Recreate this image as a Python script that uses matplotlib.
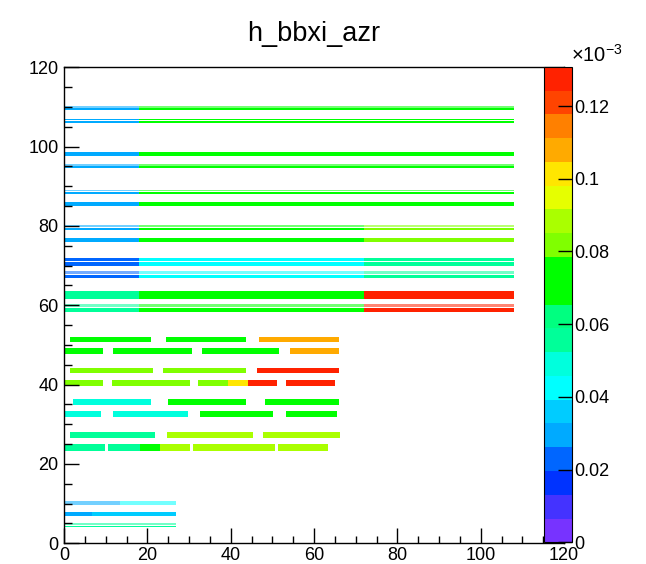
import matplotlib
matplotlib.use("Agg")
import matplotlib.pyplot as plt
from matplotlib.colors import ListedColormap, BoundaryNorm
from matplotlib.cm import ScalarMappable
from matplotlib.ticker import MultipleLocator

plt.rcParams['font.family'] = ['Liberation Sans', 'DejaVu Sans']

# 20 contour colours of the palette, bottom (0) to top (max)
palette = ["#7733ff", "#4433ff", "#0033ff", "#0066ff", "#00aaff", "#00ccff",
           "#00ffff", "#00ffdd", "#00ff99", "#00ff80", "#00ff00", "#00ff00",
           "#80ff00", "#aaff00", "#e6ff00", "#ffe600", "#ffaa00", "#ff8000",
           "#ff4400", "#ff2200"]
z_max = 0.1308  # in units of 1e-3
cbar_ticks = [0, 0.02, 0.04, 0.06, 0.08, 0.1, 0.12]

# upper block: rows split at common x edges
upper_x_edges = [0, 18, 72, 108]
upper_y = [(109.8, 110.25), (109.2, 109.7), (106.6, 107.05), (106.0, 106.45),
           (98.2, 98.6), (97.65, 98.1), (95.2, 95.6), (94.5, 95.0),
           (88.7, 89.1), (88.0, 88.5), (85.6, 86.0), (85.05, 85.5),
           (79.8, 80.2), (79.0, 79.6), (76.5, 76.9), (75.95, 76.4),
           (71.1, 72.0), (70.0, 70.9), (67.9, 68.6), (66.8, 67.6),
           (62.7, 63.6), (61.6, 62.5), (59.5, 60.2), (58.4, 59.3)]
upper_pale = [1, 0, 0, 0, 0, 0, 1, 0, 1, 0, 0, 0,
              1, 0, 0, 0, 0, 0, 1, 0, 0, 0, 1, 0]
upper_vals = [[0.030, 0.072, 0.072]] * 12 + \
             [[0.030, 0.072, 0.082]] * 4 + \
             [[0.023, 0.043, 0.056]] * 4 + \
             [[0.056, 0.072, 0.127]] * 4

# middle block: dashed rows
lower_y = [(50.8, 52.1), (47.7, 49.2), (43.0, 44.3), (39.7, 41.2),
           (34.9, 36.4), (31.8, 33.4), (26.5, 28.1), (23.3, 25.0)]
lower_segs = [
    [(1.4, 20.8, 0.072), (24.5, 43.7, 0.072), (46.9, 65.9, 0.108)],
    [(0.2, 9.4, 0.072), (11.8, 30.6, 0.072), (33.0, 51.7, 0.072), (54.2, 65.9, 0.108)],
    [(1.4, 21.3, 0.082), (23.8, 43.7, 0.082), (46.2, 65.9, 0.127)],
    [(0.2, 9.4, 0.082), (11.4, 30.2, 0.082), (32.2, 39.4, 0.082), (39.4, 44.2, 0.103),
     (44.2, 51.2, 0.127), (53.3, 65.0, 0.127)],
    [(2.1, 20.8, 0.049), (24.9, 43.6, 0.072), (48.2, 65.9, 0.072)],
    [(0.2, 8.9, 0.049), (11.8, 29.7, 0.049), (32.6, 50.2, 0.072), (53.3, 65.4, 0.072)],
    [(1.4, 21.8, 0.056), (24.6, 45.3, 0.088), (47.8, 66.2, 0.088)],
    [(0.0, 9.8, 0.056), (10.6, 18.2, 0.056), (18.2, 23.0, 0.072), (23.0, 30.2, 0.088),
     (31.0, 50.6, 0.088), (51.4, 63.4, 0.088)],
]

# bottom block: short rows
bottom_y = [(9.65, 10.7), (7.45, 7.85), (6.9, 7.3), (4.55, 5.0), (4.0, 4.4)]
bottom_pale = [1, 0, 0, 1, 0]
bottom_segs = [
    [(0, 13.4, 0.030), (13.4, 26.8, 0.043)],
    [(0, 6.6, 0.030), (6.6, 26.8, 0.036)],
    [(0, 6.6, 0.030), (6.6, 26.8, 0.036)],
    [(0, 26.8, 0.056)],
    [(0, 26.8, 0.056)],
]

cmap = ListedColormap(palette)
levels = [z_max * i / 20 for i in range(21)]
norm = BoundaryNorm(levels, cmap.N)

fig = plt.figure(figsize=(6.46, 5.64), dpi=100)
ax = fig.add_axes([0.0991, 0.0367, 0.774, 0.844])


def draw_row(y0, y1, segs, pale):
    for x0, x1, v in segs:
        ax.barh(y0, x1 - x0, left=x0, height=y1 - y0, align='edge',
                color=cmap(norm(v)), alpha=0.55 if pale else 1.0,
                linewidth=0, antialiased=False)


for (y0, y1), pale, vals in zip(upper_y, upper_pale, upper_vals):
    segs = [(upper_x_edges[i], upper_x_edges[i + 1], vals[i]) for i in range(3)]
    draw_row(y0, y1, segs, pale)
for (y0, y1), segs in zip(lower_y, lower_segs):
    draw_row(y0, y1, segs, 0)
for (y0, y1), pale, segs in zip(bottom_y, bottom_pale, bottom_segs):
    draw_row(y0, y1, segs, pale)

ax.set_xlim(0, 120)
ax.set_ylim(0, 120)
ax.xaxis.set_major_locator(MultipleLocator(20))
ax.yaxis.set_major_locator(MultipleLocator(20))
ax.xaxis.set_minor_locator(MultipleLocator(5))
ax.yaxis.set_minor_locator(MultipleLocator(5))
ax.tick_params(which='both', direction='in', width=1, labelsize=13,
               top=False, right=False)
ax.tick_params(which='major', length=10.8)
ax.tick_params(which='minor', length=5.4)
ax.tick_params(axis='x', pad=3)
ax.tick_params(axis='y', pad=4)
for s in ax.spines.values():
    s.set_linewidth(1)

cax = fig.add_axes([0.842, 0.0385, 0.0433, 0.843])
sm = ScalarMappable(norm=norm, cmap=cmap)
cb = fig.colorbar(sm, cax=cax, ticks=cbar_ticks)
cb.ax.set_yticklabels(['%g' % t for t in cbar_ticks])
cb.ax.tick_params(direction='in', length=10, width=1, labelsize=13, pad=2)
cb.ax.minorticks_off()
cb.outline.set_linewidth(0.8)

fig.text(0.884, 0.883, r'$\mathregular{\times10^{-3}}$', fontsize=14.5,
         ha='left', va='bottom')
fig.text(0.486, 0.927, 'h_bbxi_azr', fontsize=19.5, ha='center', va='baseline')

fig.savefig('out.png', dpi=100)
